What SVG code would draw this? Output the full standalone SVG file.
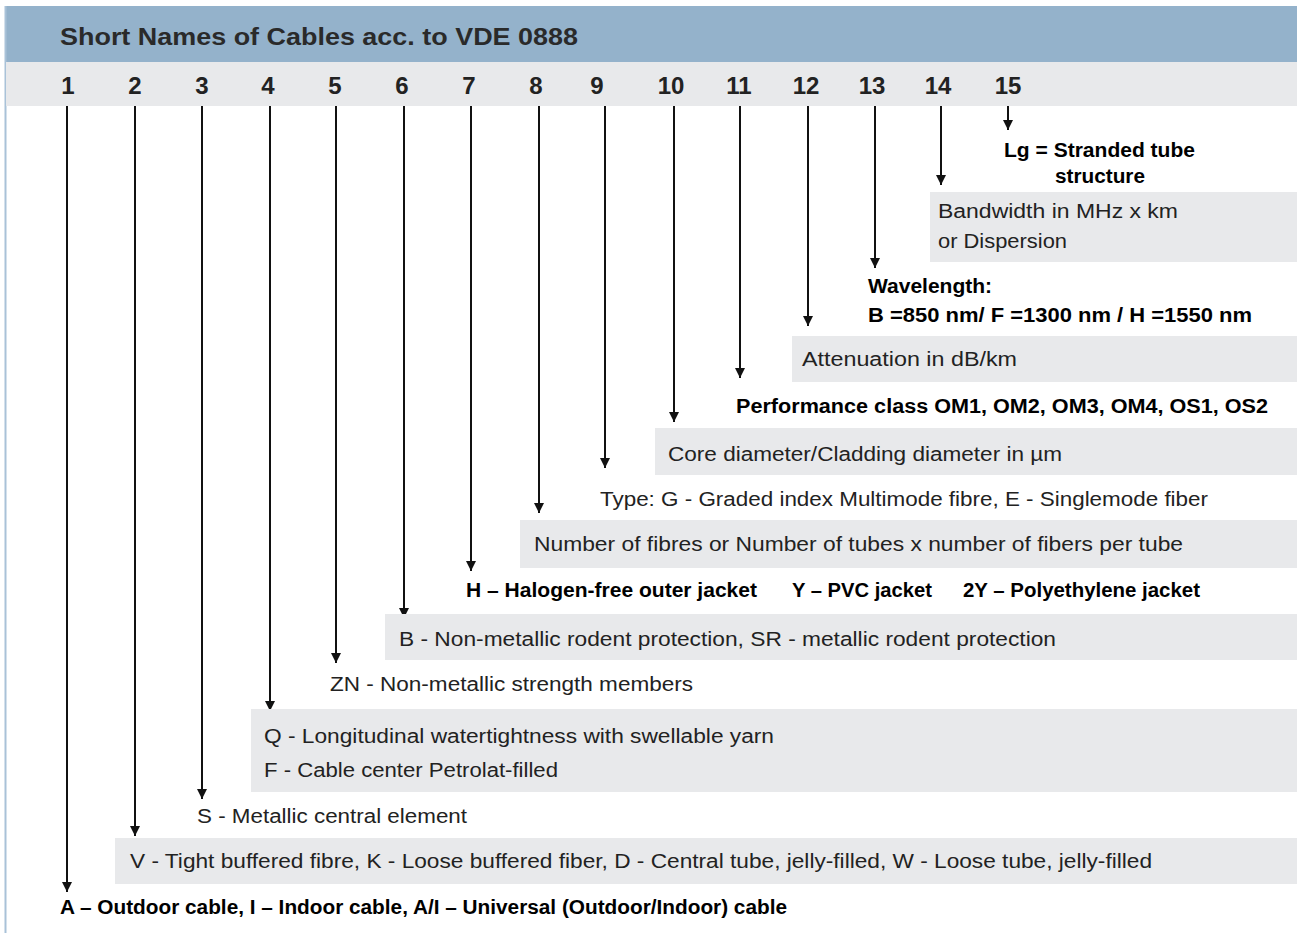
<svg xmlns="http://www.w3.org/2000/svg" width="1297" height="933" viewBox="0 0 1297 933">
<defs>
<marker id="ah" markerUnits="userSpaceOnUse" markerWidth="12" markerHeight="12" refX="10" refY="0" viewBox="0 -6 12 12" orient="auto">
<path d="M0,-5 L10,0 L0,5 z" fill="#111"/>
</marker>
<style>
.box{fill:#e8e9eb}
.t{font-family:"Liberation Sans",Arial,sans-serif;font-size:20px;fill:#222}
.b{font-family:"Liberation Sans",Arial,sans-serif;font-size:20px;font-weight:bold;fill:#000}
.n{font-family:"Liberation Sans",Arial,sans-serif;font-size:24px;font-weight:bold;fill:#222;text-anchor:middle}
.c{stroke:#111;stroke-width:2;fill:none;marker-end:url(#ah)}
</style>
</defs>
<rect x="0" y="0" width="1297" height="933" fill="#fff"/>
<g id="header">
<rect x="5" y="6" width="1292" height="56" fill="#94b2cb"/>
<line x1="5.5" y1="6" x2="5.5" y2="933" stroke="#a9c2d8" stroke-width="2"/>
<text x="60" y="45" font-family="Liberation Sans, Arial, sans-serif" font-size="24" font-weight="bold" fill="#2a2a2a" textLength="518" lengthAdjust="spacingAndGlyphs">Short Names of Cables acc. to VDE 0888</text>
</g>
<g id="numbers">
<rect x="6" y="62" width="1291" height="44" class="box"/>
<text class="n" x="68" y="94">1</text>
<text class="n" x="135" y="94">2</text>
<text class="n" x="202" y="94">3</text>
<text class="n" x="268" y="94">4</text>
<text class="n" x="335" y="94">5</text>
<text class="n" x="402" y="94">6</text>
<text class="n" x="469" y="94">7</text>
<text class="n" x="536" y="94">8</text>
<text class="n" x="597" y="94">9</text>
<text class="n" x="671" y="94">10</text>
<text class="n" x="739" y="94">11</text>
<text class="n" x="806" y="94">12</text>
<text class="n" x="872" y="94">13</text>
<text class="n" x="938" y="94">14</text>
<text class="n" x="1008" y="94">15</text>
</g>
<g id="connectors">
<line class="c" x1="67" y1="106" x2="67" y2="892"/>
<line class="c" x1="135" y1="106" x2="135" y2="836"/>
<line class="c" x1="202" y1="106" x2="202" y2="799"/>
<line class="c" x1="270" y1="106" x2="270" y2="711"/>
<line class="c" x1="336" y1="106" x2="336" y2="663"/>
<line class="c" x1="404" y1="106" x2="404" y2="618"/>
<line class="c" x1="471" y1="106" x2="471" y2="571"/>
<line class="c" x1="539" y1="106" x2="539" y2="513"/>
<line class="c" x1="605" y1="106" x2="605" y2="468"/>
<line class="c" x1="674" y1="106" x2="674" y2="422"/>
<line class="c" x1="740" y1="106" x2="740" y2="378"/>
<line class="c" x1="808" y1="106" x2="808" y2="326"/>
<line class="c" x1="875" y1="106" x2="875" y2="268"/>
<line class="c" x1="941" y1="106" x2="941" y2="185"/>
<line class="c" x1="1008" y1="106" x2="1008" y2="130"/>
</g>
<g id="n15">
<text class="b" x="1004" y="157" textLength="191" lengthAdjust="spacingAndGlyphs">Lg = Stranded tube</text>
<text class="b" x="1055" y="183" textLength="90" lengthAdjust="spacingAndGlyphs">structure</text>
</g>
<g id="n14">
<rect class="box" x="930" y="192" width="367" height="70"/>
<text class="t" x="938" y="218" textLength="240" lengthAdjust="spacingAndGlyphs">Bandwidth in MHz x km</text>
<text class="t" x="938" y="248" textLength="129" lengthAdjust="spacingAndGlyphs">or Dispersion</text>
</g>
<g id="n13">
<text class="b" x="868" y="293" textLength="124" lengthAdjust="spacingAndGlyphs">Wavelength:</text>
<text class="b" x="868" y="322" textLength="384" lengthAdjust="spacingAndGlyphs">B =850 nm/ F =1300 nm / H =1550 nm</text>
</g>
<g id="n12">
<rect class="box" x="792" y="336" width="505" height="46"/>
<text class="t" x="802" y="366" textLength="215" lengthAdjust="spacingAndGlyphs">Attenuation in dB/km</text>
</g>
<g id="n11">
<text class="b" x="736" y="413" textLength="532" lengthAdjust="spacingAndGlyphs">Performance class OM1, OM2, OM3, OM4,  OS1, OS2</text>
</g>
<g id="n10">
<rect class="box" x="655" y="428" width="642" height="47"/>
<text class="t" x="668" y="461" textLength="394" lengthAdjust="spacingAndGlyphs">Core diameter/Cladding diameter in µm</text>
</g>
<g id="n9">
<text class="t" x="600" y="506" textLength="608" lengthAdjust="spacingAndGlyphs">Type: G - Graded index Multimode fibre, E - Singlemode fiber</text>
</g>
<g id="n8">
<rect class="box" x="520" y="520" width="777" height="48"/>
<text class="t" x="534" y="551" textLength="649" lengthAdjust="spacingAndGlyphs">Number of fibres or Number of tubes x number of fibers per tube</text>
</g>
<g id="n7">
<text class="b" x="466" y="597" textLength="291" lengthAdjust="spacingAndGlyphs">H – Halogen-free outer jacket</text>
<text class="b" x="792" y="597" textLength="140" lengthAdjust="spacingAndGlyphs">Y – PVC jacket</text>
<text class="b" x="963" y="597" textLength="237" lengthAdjust="spacingAndGlyphs">2Y – Polyethylene jacket</text>
</g>
<g id="n6">
<rect class="box" x="385" y="614" width="912" height="46"/>
<text class="t" x="399" y="646" textLength="657" lengthAdjust="spacingAndGlyphs">B - Non-metallic rodent protection,  SR - metallic rodent protection</text>
</g>
<g id="n5">
<text class="t" x="330" y="691" textLength="363" lengthAdjust="spacingAndGlyphs">ZN - Non-metallic strength members</text>
</g>
<g id="n4">
<rect class="box" x="251" y="709" width="1046" height="83"/>
<text class="t" x="264" y="743" textLength="510" lengthAdjust="spacingAndGlyphs">Q - Longitudinal watertightness with swellable yarn</text>
<text class="t" x="264" y="777" textLength="294" lengthAdjust="spacingAndGlyphs">F - Cable center Petrolat-filled</text>
</g>
<g id="n3">
<text class="t" x="197" y="823" textLength="270" lengthAdjust="spacingAndGlyphs">S - Metallic central element</text>
</g>
<g id="n2">
<rect class="box" x="115" y="838" width="1182" height="46"/>
<text class="t" x="130" y="868" textLength="1022" lengthAdjust="spacingAndGlyphs">V - Tight buffered fibre, K - Loose buffered fiber, D - Central tube, jelly-filled, W - Loose tube, jelly-filled</text>
</g>
<g id="n1">
<text class="b" x="60" y="914" textLength="727" lengthAdjust="spacingAndGlyphs">A – Outdoor cable, I – Indoor cable, A/I – Universal (Outdoor/Indoor) cable</text>
</g>
</svg>
